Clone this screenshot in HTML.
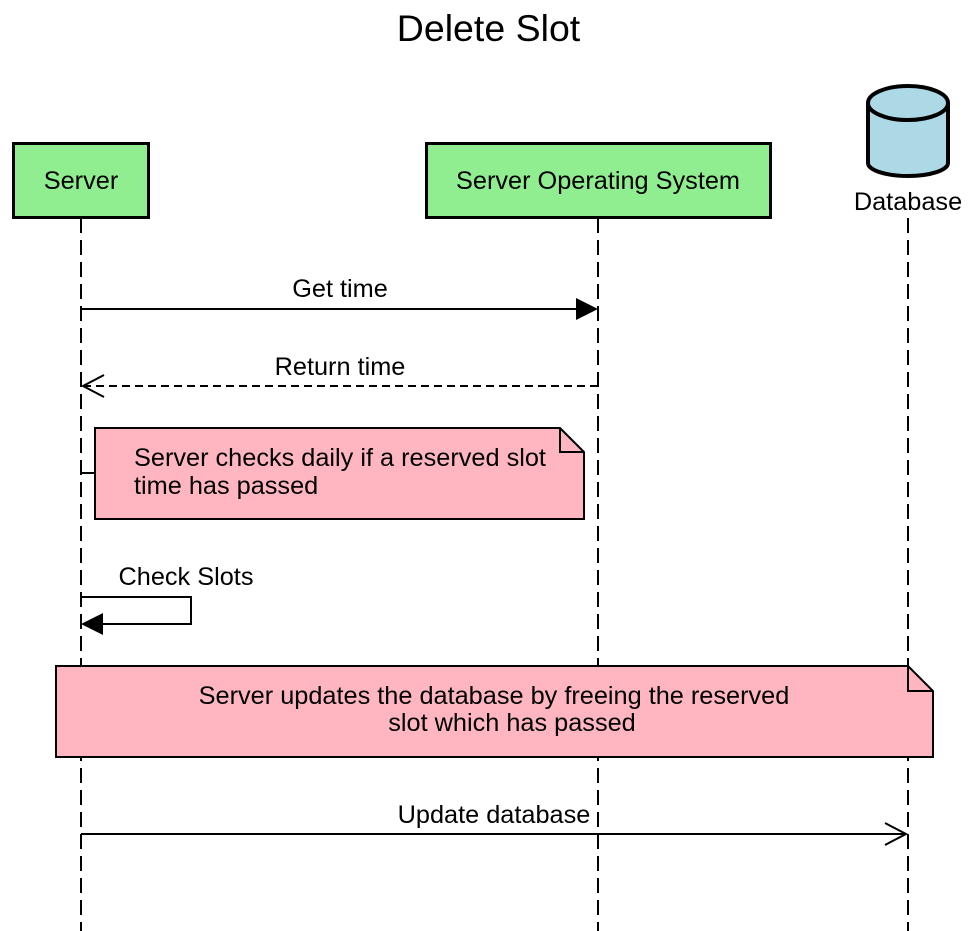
<!DOCTYPE html>
<html><head><style>html,body{margin:0;padding:0;background:#fff}svg{display:block}text{font-family:"Liberation Sans",sans-serif;fill:#000}</style></head>
<body>
<svg width="977" height="931" viewBox="0 0 977 931" xmlns="http://www.w3.org/2000/svg">
<text x="488.5" y="41" font-size="37.5" text-anchor="middle">Delete Slot</text>
<g stroke="#000" stroke-width="2" stroke-dasharray="15,7" fill="none">
<line x1="81" y1="218" x2="81" y2="931"/>
<line x1="598" y1="218" x2="598" y2="931"/>
<line x1="908" y1="218" x2="908" y2="931"/>
</g>
<rect x="13.5" y="143.5" width="135" height="74" fill="#90ee90" stroke="#000" stroke-width="3"/>
<text x="81" y="189" font-size="25.3" text-anchor="middle">Server</text>
<rect x="426.5" y="143.5" width="344" height="74" fill="#90ee90" stroke="#000" stroke-width="3"/>
<text x="598" y="189" font-size="25.3" text-anchor="middle">Server Operating System</text>
<path d="M868,103 L868,163 A40,13 0 0 0 948,163 L948,103" fill="#add8e6" stroke="#000" stroke-width="4"/>
<ellipse cx="908" cy="103" rx="40" ry="17" fill="#add8e6" stroke="#000" stroke-width="4"/>
<text x="908" y="210" font-size="25.3" text-anchor="middle">Database</text>
<text x="340" y="297" font-size="25.3" text-anchor="middle">Get time</text>
<line x1="81" y1="309" x2="580" y2="309" stroke="#000" stroke-width="2"/>
<polygon points="576,298 598,309 576,320" fill="#000"/>
<text x="340" y="375" font-size="25.3" text-anchor="middle">Return time</text>
<line x1="83" y1="386" x2="598" y2="386" stroke="#000" stroke-width="2" stroke-dasharray="8,5"/>
<polyline points="104,375 83,386 104,397" fill="none" stroke="#000" stroke-width="2"/>
<path d="M95,428 L560,428 L584,452 L584,519 L95,519 Z" fill="#ffb6c1" stroke="#000" stroke-width="2"/>
<path d="M560,428 L560,452 L584,452" fill="none" stroke="#000" stroke-width="2"/>
<line x1="81" y1="473" x2="95" y2="473" stroke="#000" stroke-width="2"/>
<text x="134" y="466" font-size="25.3">Server checks daily if a reserved slot</text>
<text x="134" y="494" font-size="25.3">time has passed</text>
<text x="186" y="585" font-size="25.3" text-anchor="middle">Check Slots</text>
<polyline points="81,597 191,597 191,624 100,624" fill="none" stroke="#000" stroke-width="2"/>
<polygon points="103,613 81,624 103,635" fill="#000"/>
<path d="M56,666 L908,666 L933,691 L933,757 L56,757 Z" fill="#ffb6c1" stroke="#000" stroke-width="2"/>
<path d="M908,666 L908,691 L933,691" fill="none" stroke="#000" stroke-width="2"/>
<text x="494" y="704" font-size="25.3" text-anchor="middle">Server updates the database by freeing the reserved</text>
<text x="512" y="731" font-size="25.3" text-anchor="middle">slot which has passed</text>
<text x="494" y="823" font-size="25.3" text-anchor="middle">Update database</text>
<line x1="81" y1="834" x2="906" y2="834" stroke="#000" stroke-width="2"/>
<polyline points="885,823 906,834 885,845" fill="none" stroke="#000" stroke-width="2"/>
</svg>
</body></html>
